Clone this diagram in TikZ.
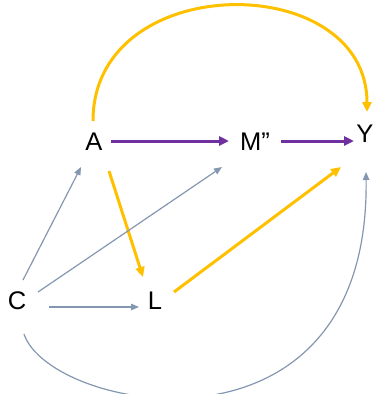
\documentclass[tikz,border=0pt]{standalone}
\usepackage{fontspec}
\setmainfont{Liberation Sans}
\usetikzlibrary{arrows.meta,calc}
\definecolor{ylw}{HTML}{FFC000}
\definecolor{prp}{HTML}{7030A0}
\definecolor{gry}{HTML}{8497B0}
\tikzset{
  var/.style={inner sep=0pt, text height=18pt, text depth=0pt, font=\fontsize{25.5}{30}\selectfont},
  ylwarrow/.style={draw=ylw, line width=3pt, -{Triangle[length=10pt,width=9pt]}},
  prparrow/.style={draw=prp, line width=3pt, -{Triangle[length=10pt,width=9pt]}},
  gryarrow/.style={draw=gry, line width=1.2pt, -{Triangle[length=8pt,width=6.5pt]}}
}
\begin{document}
\begin{tikzpicture}[x=1pt,y=-1pt]
\useasboundingbox (0,0) rectangle (375,394);
\node[var] (A) at (94,141) {A};
\node[var] (M) at (255,141) {M”};
\node[var] (Y) at (365,133) {Y};
\node[var] (C) at (17,300) {C};
\node[var] (L) at (155,300) {L};
% purple
\draw[prparrow] ($(A)+(17,0)$) -- ($(M)+(-26,0)$);
\draw[prparrow] ($(M)+(26,0)$) -- ($(Y)+(-11,8)$);
% yellow
\draw[ylwarrow] ($(A)+(-1,-20)$) .. controls ($(A)+(-1,-172)$) and ($(Y)+(2,-164)$) .. ($(Y)+(2,-21)$);
\draw[ylwarrow] ($(A)+(15,30)$) -- ($(L)+(-12,-23)$);
\draw[ylwarrow] ($(L)+(19,-8)$) -- ($(Y)+(-24,34)$);
% gray
\draw[gryarrow] ($(C)+(6,-20)$) -- ($(A)+(-13,26)$);
\draw[gryarrow] ($(C)+(21,-8)$) -- ($(M)+(-33,26)$);
\draw[gryarrow] ($(C)+(32,7)$) -- ($(L)+(-16,7)$);
\draw[gryarrow] ($(C)+(7,34)$) .. controls ($(C)+(33,112)$) and ($(Y)+(5,340)$) .. ($(Y)+(1,39)$);
\end{tikzpicture}
\end{document}
